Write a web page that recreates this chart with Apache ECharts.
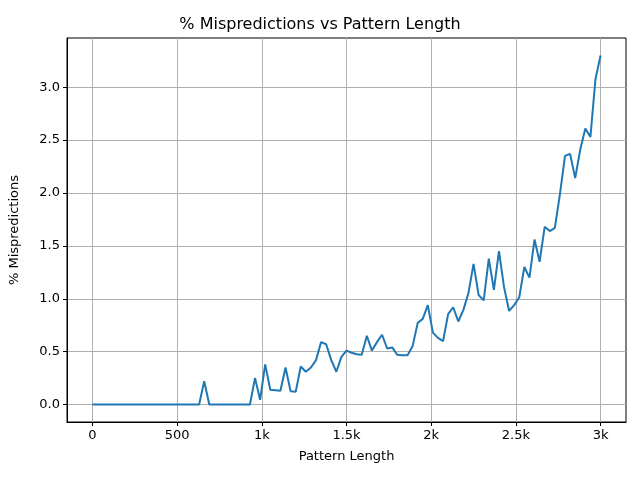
<!DOCTYPE html>
<html>
<head>
<meta charset="utf-8">
<script src="https://cdn.jsdelivr.net/npm/echarts@6/dist/echarts.min.js"></script>
<style>
  html, body { margin: 0; padding: 0; background: #fff; }
  #main { width: 640px; height: 480px; }
</style>
</head>
<body>
<div id="main"></div>
<script>
// pattern lengths, step 30 from 0 to 3000
var lengths = [];
for (var i = 0; i <= 100; i++) lengths.push(i * 30);

var mispredictions = [
  0, 0, 0, 0, 0, 0, 0, 0, 0, 0,
  0, 0, 0, 0, 0, 0, 0, 0, 0, 0,
  0, 0, 0.22, 0, 0, 0, 0, 0, 0, 0,
  0, 0, 0.25, 0.045, 0.38, 0.14, 0.135, 0.13, 0.35, 0.125,
  0.12, 0.36, 0.31, 0.35, 0.42, 0.59, 0.57, 0.42, 0.31, 0.45,
  0.51, 0.49, 0.475, 0.47, 0.65, 0.51, 0.59, 0.66, 0.53, 0.54,
  0.47, 0.465, 0.465, 0.55, 0.77, 0.81, 0.94, 0.68, 0.63, 0.60,
  0.855, 0.92, 0.785, 0.895, 1.055, 1.33, 1.035, 0.985, 1.38, 1.085,
  1.45, 1.11, 0.885, 0.94, 1.015, 1.30, 1.20, 1.56, 1.35, 1.68,
  1.64, 1.67, 1.99, 2.35, 2.37, 2.14, 2.41, 2.61, 2.53, 3.08,
  3.30
];

var xTicks = [0, 500, 1000, 1500, 2000, 2500, 3000];
var yTicks = [0, 0.5, 1.0, 1.5, 2.0, 2.5, 3.0];

var chart = echarts.init(document.getElementById('main'));

var points = [];
for (var k = 0; k < lengths.length; k++) points.push([lengths[k], mispredictions[k]]);

var font = 'DejaVu Sans';

chart.setOption({
  animation: false,
  backgroundColor: '#fff',
  title: {
    text: '% Mispredictions vs Pattern Length',
    left: 'center',
    top: 12,
    textStyle: { fontFamily: font, fontSize: 16, fontWeight: 'normal', color: '#000' }
  },
  grid: {
    left: 67, right: 14, top: 38, bottom: 58,
    show: true, borderColor: '#000', borderWidth: 1, backgroundColor: 'transparent'
  },
  xAxis: {
    type: 'value',
    min: -150, max: 3150,
    name: 'Pattern Length',
    nameLocation: 'middle',
    nameGap: 28,
    nameTextStyle: { fontFamily: font, fontSize: 13, color: '#000' },
    axisLine: { show: true, onZero: false, lineStyle: { color: '#000', width: 1 } },
    axisTick: { show: true, inside: false, length: 4, customValues: xTicks, lineStyle: { color: '#000', width: 1 } },
    axisLabel: {
      customValues: xTicks,
      fontFamily: font, fontSize: 13, color: '#000', margin: 7,
      formatter: function (v) { return v === 0 ? '0' : (v < 1000 ? String(v) : (v / 1000) + 'k'); }
    },
    splitLine: { show: true, lineStyle: { color: '#b0b0b0', width: 1 } }
  },
  yAxis: {
    type: 'value',
    min: -0.165, max: 3.465,
    name: '% Mispredictions',
    nameLocation: 'middle',
    nameGap: 46,
    nameTextStyle: { fontFamily: font, fontSize: 13, color: '#000' },
    axisLine: { show: true, onZero: false, lineStyle: { color: '#000', width: 1 } },
    axisTick: { show: true, inside: false, length: 4, customValues: yTicks, lineStyle: { color: '#000', width: 1 } },
    axisLabel: {
      customValues: yTicks,
      fontFamily: font, fontSize: 13, color: '#000', margin: 7,
      formatter: function (v) { return v.toFixed(1); }
    },
    splitLine: { show: true, lineStyle: { color: '#b0b0b0', width: 1 } }
  },
  series: [{
    type: 'line',
    data: points,
    showSymbol: false,
    lineStyle: { color: '#1f77b4', width: 2 },
    itemStyle: { color: '#1f77b4' }
  }]
});
</script>
</body>
</html>
